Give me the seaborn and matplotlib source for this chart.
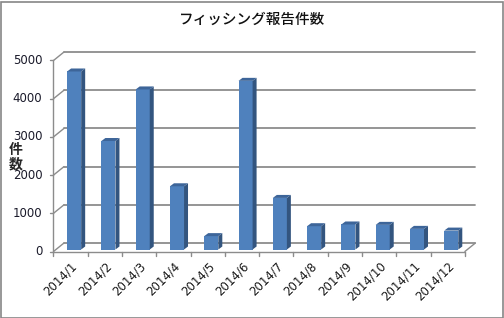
import matplotlib
matplotlib.use("Agg")
import matplotlib.pyplot as plt
import seaborn as sns
from matplotlib.patches import Polygon, Rectangle

months = ["2014/1", "2014/2", "2014/3", "2014/4", "2014/5", "2014/6",
          "2014/7", "2014/8", "2014/9", "2014/10", "2014/11", "2014/12"]
counts = [4660, 2840, 4190, 1655, 350, 4415, 1350, 610, 655, 645, 540, 495]
yticks = [0, 1000, 2000, 3000, 4000, 5000]
title = "フィッシング報告件数"
ylabel = "件\n数"

sns.set_style("white")
plt.rcParams['font.family'] = ['DejaVu Sans', 'Noto Sans CJK JP']

W, H = 504, 318
fig = plt.figure(figsize=(W / 100, H / 100), dpi=100)
# bar plane axes
ax = fig.add_axes([57 / W, 1 - 249.5 / H, 411.4 / W, 191 / H])
sns.barplot(x=months, y=counts, color="#4F81BD", saturation=1, width=0.41,
            ax=ax, edgecolor="none")
ax.set_xlim(-0.5, 11.5)
ax.set_ylim(0, 5000)
ax.axis("off")

pxx = 1 / 34.28   # data units per pixel (x)
pxy = 1000 / 38.2  # data units per pixel (y)

# 3D frame
fdx, fdy = -3.5 * pxx, -2 * pxy      # front plane offset
bdx, bdy = 7 * pxx, 6.5 * pxy        # back wall offset
gc = "#8c8c8c"
fl, fr = -0.5 + fdx, 11.5 + fdx
bl, br = -0.5 + bdx, 11.5 + bdx
for v in yticks:
    ax.plot([bl, br], [v + bdy, v + bdy], color=gc, lw=1.3, clip_on=False, zorder=0.5)
    ax.plot([fl, bl], [v + fdy, v + bdy], color=gc, lw=1.0, clip_on=False, zorder=0.5)
    ax.plot([fl - 3 * pxx, fl], [v + fdy, v + fdy], color=gc, lw=1.0, clip_on=False)
    ax.text(fl - 11 * pxx, v + fdy, str(v), ha="right", va="center", fontsize=8.5,
            color="#1a1a2a")
ax.plot([fl, fl], [fdy, 5000 + fdy], color=gc, lw=1.0, clip_on=False)
ax.plot([fl, fr], [fdy, fdy], color=gc, lw=1.0, clip_on=False)
ax.plot([fr, br], [fdy, bdy], color=gc, lw=1.0, clip_on=False, zorder=0.5)
for i in range(13):
    ax.plot([fl + i, fl + i], [fdy, fdy - 4 * pxy], color=gc, lw=1.0, clip_on=False)
for i, m in enumerate(months):
    ax.text(i + 0.03, -390, m, rotation=45, ha="right", va="center",
            rotation_mode="anchor", fontsize=8.5, color="#1a1a1a")

# 3D faces of bars derived from the drawn patches
sdx, sdy = 4 * pxx, 3 * pxy
for p in list(ax.patches):
    x0, y0 = p.get_x(), p.get_y()
    w, h = p.get_width(), p.get_height()
    x1, y1 = x0 + w, y0 + h
    side = Polygon([(x1, y0), (x1 + sdx, y0 + sdy), (x1 + sdx, y1 + sdy), (x1, y1)],
                   closed=True, facecolor="#33557F", edgecolor="none", clip_on=False, zorder=2)
    top = Polygon([(x0, y1), (x0 + sdx, y1 + sdy), (x1 + sdx, y1 + sdy), (x1, y1)],
                  closed=True, facecolor="#3D6599", edgecolor="none", clip_on=False, zorder=2)
    ax.add_patch(side)
    ax.add_patch(top)
    p.set_zorder(2)
    p.set_clip_on(False)

fig.text(252 / W, 1 - 20 / H, title, ha="center", va="center", fontsize=10.5,
         fontweight="medium", family=["Noto Sans CJK JP", "DejaVu Sans"], color="#111111")
fig.text(16 / W, 1 - 157 / H, ylabel, ha="center", va="center", fontsize=10,
         fontweight="bold", linespacing=1.0, family=["Noto Sans CJK JP", "DejaVu Sans"])

fig.add_artist(Rectangle((0.5 / W, 0.5 / H), (W - 2) / W, (H - 2) / H,
                         transform=fig.transFigure, fill=False,
                         edgecolor="#868686", lw=1.2))
fig.savefig("out.png", dpi=100)
